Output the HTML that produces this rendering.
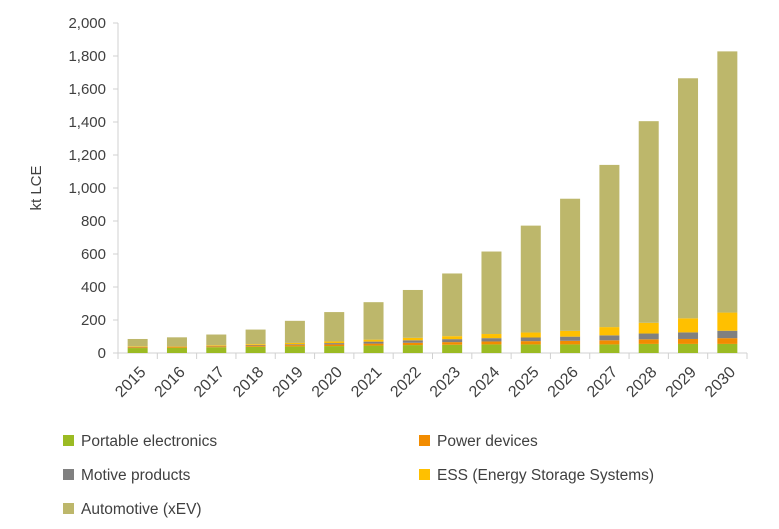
<!DOCTYPE html>
<html><head><meta charset="utf-8"><style>
body{margin:0;background:#fff;font-family:"Liberation Sans",sans-serif;}
svg text{fill:#404040;font-family:"Liberation Sans",sans-serif;}
</style></head><body>
<svg id="c" width="779" height="524"></svg>
<script>
const years=["2015","2016","2017","2018","2019","2020","2021","2022","2023","2024","2025","2026","2027","2028","2029","2030"];
const portable=[30,32,35,38,40,42,45,48,50,52,52,52,52,55,55,55];
const power=[5,5,6,7,8,10,12,14,16,18,20,22,25,28,30,35];
const motive=[2,2,3,4,5,8,12,15,18,20,22,25,30,35,40,45];
const ess=[3,3,4,5,8,10,12,15,18,25,30,35,50,65,85,110];
const totals=[85,95,112,142,195,248,308,382,482,615,772,935,1140,1405,1665,1828];
const yTicks=[0,200,400,600,800,1000,1200,1400,1600,1800,2000];
const NS="http://www.w3.org/2000/svg";
const svg=document.getElementById('c');
const x0=118,x1=747,y0=353,y1=23;
const y=v=>y0-(v/2000)*(y0-y1);
const step=(x1-x0)/years.length;
const xc=i=>x0+step*(i+0.5);
function el(t,a,p){const e=document.createElementNS(NS,t);for(const k in a)e.setAttribute(k,a[k]);(p||svg).appendChild(e);return e;}
const ax=el('line',{x1:x0,y1:y1,x2:x0,y2:y0,stroke:'#d0d0d0'});


const bx=el('line',{x1:x0,y1:y0,x2:x1,y2:y0,stroke:'#d0d0d0'});


yTicks.forEach(v=>{
 el('line',{x1:x0-5,x2:x0,y1:y(v),y2:y(v),stroke:'#d0d0d0'});
 const t=el('text',{x:x0-12,y:y(v)+5,'text-anchor':'end','font-size':15});
 t.textContent=v.toLocaleString('en-US');
 
 
});
const yt=el('text',{transform:'translate(41,188) rotate(-90)','text-anchor':'middle','font-size':15});
yt.textContent='kt LCE';


for(let i=0;i<=years.length;i++){el('line',{x1:x0+step*i,x2:x0+step*i,y1:y0,y2:y0+6,stroke:'#d0d0d0'});}
const colors=['#9bbb23','#f28c00','#808080','#ffc000','#bdb76b'];
const names=['portable','power','motive','ess','automotive'];
years.forEach((yr,i)=>{
 const auto=totals[i]-portable[i]-power[i]-motive[i]-ess[i];
 const vals=[portable[i],power[i],motive[i],ess[i],auto];
 let base=0;
 vals.forEach((v,k)=>{
  const r=el('rect',{x:xc(i)-10,width:20,y:y(base+v),height:y(base)-y(base+v),fill:colors[k]});
  
  
  base+=v;
 });
 const t=el('text',{transform:`translate(${xc(i)+9},${y0+20}) rotate(-45)`,'text-anchor':'end','font-size':16});
 t.textContent=yr;
 
 
});
const legend=[['Portable electronics',63,441,0],['Power devices',419,441,1],['Motive products',63,475,2],['ESS (Energy Storage Systems)',419,475,3],['Automotive (xEV)',63,509,4]];
legend.forEach(([n,lx,ly,k])=>{
 const g=el('g',{});
 
 
 el('rect',{x:lx,y:ly-6,width:11,height:11,fill:colors[k]},g);
 const t=el('text',{x:lx+18,y:ly+5,'font-size':15.5},g);t.textContent=n;
});
</script>
</body></html>
